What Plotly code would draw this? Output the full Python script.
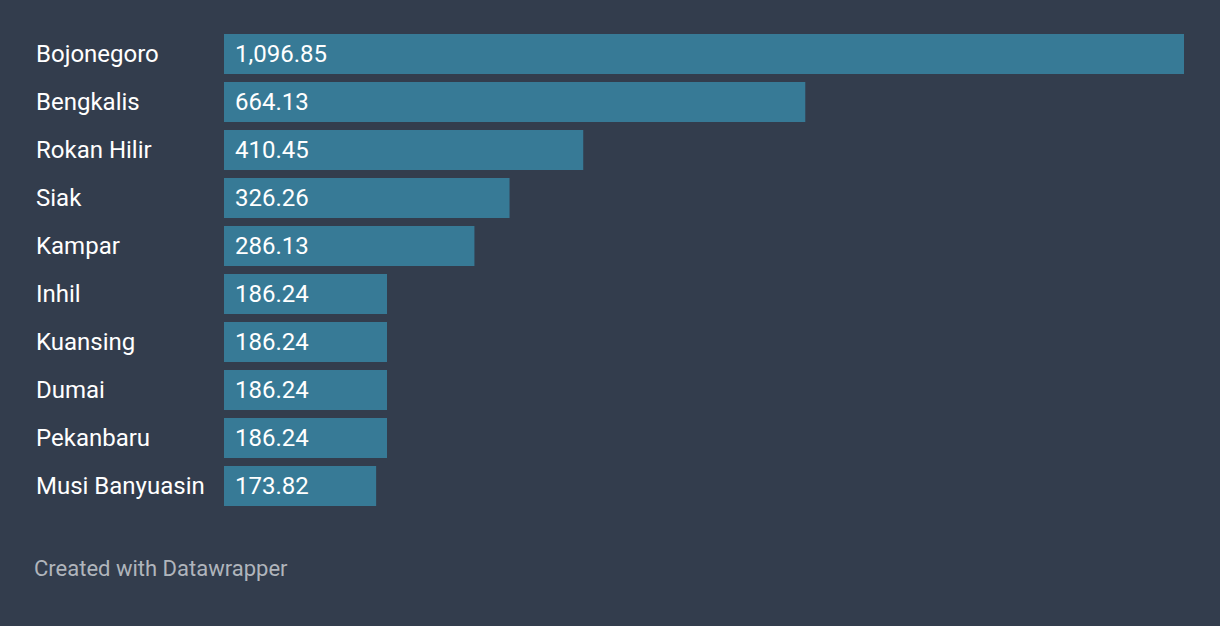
import plotly.graph_objects as go

regions = ["Bojonegoro", "Bengkalis", "Rokan Hilir", "Siak", "Kampar", "Inhil",
           "Kuansing", "Dumai", "Pekanbaru", "Musi Banyuasin"]
values = [1096.85, 664.13, 410.45, 326.26, 286.13, 186.24, 186.24, 186.24, 186.24, 173.82]
value_labels = [f"{v:,.2f}" for v in values]

BG = "#333d4d"
BAR = "#377a96"
FONT = "Roboto"

L, R, T, B, W, H = 224, 36, 30, 116, 1220, 626
pw, ph = W - L - R, H - T - B

fig = go.Figure()
fig.add_trace(go.Bar(
    x=values, y=regions, orientation="h",
    marker=dict(color=BAR, line=dict(width=0)),
    hoverinfo="skip",
))

annotations = []
for r, lab in zip(regions, value_labels):
    annotations.append(dict(x=0, y=r, xref="x", yref="y", text=lab, showarrow=False,
                            xanchor="left", xshift=9, yshift=0,
                            font=dict(family=FONT, size=24, color="#ffffff")))
    annotations.append(dict(x=(36 - L) / pw, y=r, xref="paper", yref="y", text=r, showarrow=False,
                            xanchor="left", xshift=-2, yshift=0,
                            font=dict(family=FONT, size=24, color="#ffffff")))
annotations.append(dict(x=(34 - L) / pw, y=(H - B - 568) / ph, xref="paper", yref="paper",
                        text="Created with Datawrapper", showarrow=False,
                        xanchor="left", yanchor="middle", xshift=-2,
                        font=dict(family=FONT, size=22, color="#b0b5bc")))

fig.update_layout(
    width=W, height=H,
    margin=dict(l=L, r=R, t=T, b=B, pad=0),
    paper_bgcolor=BG, plot_bgcolor=BG,
    bargap=1/6,
    showlegend=False,
    xaxis=dict(range=[0, max(values)], visible=False, fixedrange=True),
    yaxis=dict(autorange="reversed", showticklabels=False, showgrid=False,
               zeroline=False, showline=False, ticks="", fixedrange=True),
    annotations=annotations,
    font=dict(family=FONT),
)

fig.write_html("out.html", config={"displayModeBar": False})
